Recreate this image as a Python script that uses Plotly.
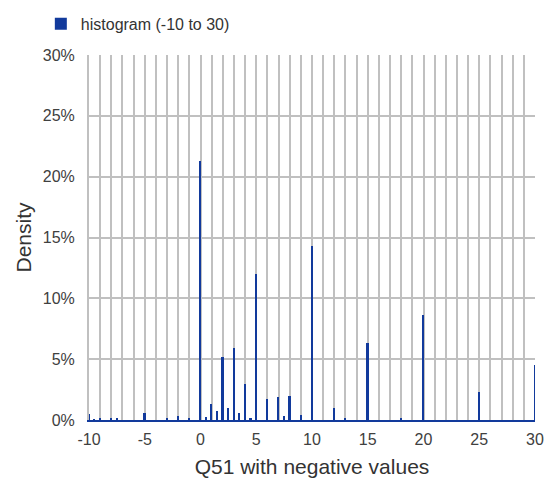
import plotly.graph_objects as go

# Histogram bins (center values) and densities in percent
bin_centers = [-10, -9.5, -9, -8, -7.5, -5, -3, -2, -1, 0, 0.5, 1, 1.5, 2, 2.5, 3, 3.5,
               4, 4.5, 5, 6, 7, 7.5, 8, 9, 10, 12, 13, 15, 18, 20, 25, 30]
density_pct = [0.47, 0.08, 0.1, 0.1, 0.1, 0.55, 0.2, 0.3, 0.2, 21.3, 0.27, 1.3, 0.77, 5.2, 0.97,
               5.9, 0.6, 2.95, 0.2, 12.0, 1.75, 1.85, 0.33, 2.0, 0.45, 14.3, 0.98, 0.2,
               6.3, 0.2, 8.6, 2.3, 4.5]
x_tick_vals = [-10, -5, 0, 5, 10, 15, 20, 25, 30]
x_tick_text = ["-10", "-5", "0", "5", "10", "15", "20", "25", "30"]
y_tick_vals = [0, 5, 10, 15, 20, 25, 30]
y_tick_text = ["0%", "5%", "10%", "15%", "20%", "25%", "30%"]
series_name = "histogram (-10 to 30)"

BLUE = "#123a9c"
LEGEND_BLUE = "#0b3598"
GRID = "#c0c0c0"
TXT = "#404040"
FONT = "Liberation Sans, Arial, sans-serif"

fig = go.Figure()
fig.add_trace(go.Bar(
    x=bin_centers, y=density_pct, width=0.15,
    marker=dict(color=BLUE, line=dict(width=0)),
    name=series_name, showlegend=True,
))

fig.update_layout(
    width=544, height=480,
    margin=dict(l=89, r=9, t=55, b=60, autoexpand=False),
    plot_bgcolor="white", paper_bgcolor="white",
    font=dict(family=FONT, size=16, color=TXT),
    bargap=0,
    legend=dict(
        x=-0.108, y=1.132, xanchor="left", yanchor="top",
        font=dict(size=16, color="#333333"),
        bgcolor="rgba(0,0,0,0)",
    ),
    xaxis=dict(
        range=[-10, 30],
        tickvals=x_tick_vals, ticktext=x_tick_text,
        ticks="",
        showgrid=True, gridcolor=GRID, gridwidth=2,
        minor=dict(dtick=1, tick0=0, showgrid=True, gridcolor=GRID, gridwidth=2),
        showline=True, linecolor=BLUE, linewidth=2,
        zeroline=False,
        ticklabelstandoff=4,
        tickfont=dict(size=16, color=TXT),
        title=dict(text="Q51 with negative values", font=dict(size=21, color="#333333"), standoff=12),
    ),
    yaxis=dict(
        range=[0, 30],
        tickvals=y_tick_vals, ticktext=y_tick_text,
        ticks="",
        showgrid=True, gridcolor=GRID, gridwidth=2,
        showline=True, linecolor=GRID, linewidth=2,
        zeroline=False,
        ticklabelstandoff=9,
        tickfont=dict(size=16, color=TXT),
        title=dict(text="Density", font=dict(size=21, color="#333333"), standoff=5),
    ),
)

fig.write_html(
    "out.html",
    config={"displayModeBar": False},
    post_script="document.body.style.margin='0';document.body.style.overflow='hidden';",
)
